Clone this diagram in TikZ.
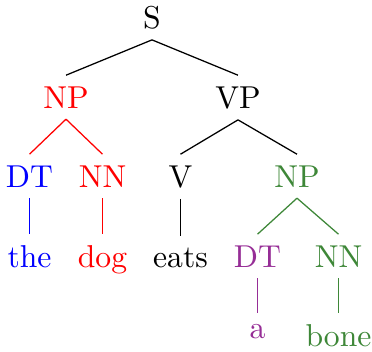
\documentclass[tikz,border=0pt]{standalone}
\definecolor{tgreen}{RGB}{62,135,56}
\definecolor{tpurple}{RGB}{150,45,150}
\begin{document}
\begin{tikzpicture}[x=0.316pt,y=-0.316pt,
  lab/.style={inner sep=3.33pt,anchor=base},
  edge/.style={line width=0.4pt}]
\useasboundingbox (0,0) rectangle (372,351);
% level 0
\node[lab] (S) at (152,28) {S};
% level 1
\node[lab,red] (NP) at (66,108) {NP};
\node[lab] (VP) at (238,108) {VP};
% level 2
\node[lab,blue] (DT) at (29.5,187) {DT};
\node[lab,red] (NN) at (102.5,187) {NN};
\node[lab] (V) at (180.5,187) {V};
\node[lab,tgreen] (NPb) at (297,187) {NP};
% level 3
\node[lab,blue] (the) at (29.5,267) {the};
\node[lab,red] (dog) at (102.5,267) {dog};
\node[lab] (eats) at (180.5,267) {eats};
\node[lab,tpurple] (DTb) at (257.5,267) {DT};
\node[lab,tgreen] (NNb) at (338.5,267) {NN};
% level 4
\node[lab,tpurple,anchor=north] (a) at (257.5,313) {a};
\node[lab,tgreen,anchor=north] (bone) at (338.5,313) {bone};
% edges
\draw[edge] (S.south) -- (NP.north);
\draw[edge] (S.south) -- (VP.north);
\draw[edge,red] (NP.south) -- (DT.north);
\draw[edge,red] (NP.south) -- (NN.north);
\draw[edge] (VP.south) -- (V.north);
\draw[edge] (VP.south) -- (NPb.north);
\draw[edge,blue] (DT.south) -- (the.north);
\draw[edge,red] (NN.south) -- (dog.north);
\draw[edge] (V.south) -- (eats.north);
\draw[edge,tgreen] (NPb.south) -- (DTb.north);
\draw[edge,tgreen] (NPb.south) -- (NNb.north);
\draw[edge,tpurple] (DTb.south) -- (a.north);
\draw[edge,tgreen] (NNb.south) -- (bone.north);
\end{tikzpicture}
\end{document}
